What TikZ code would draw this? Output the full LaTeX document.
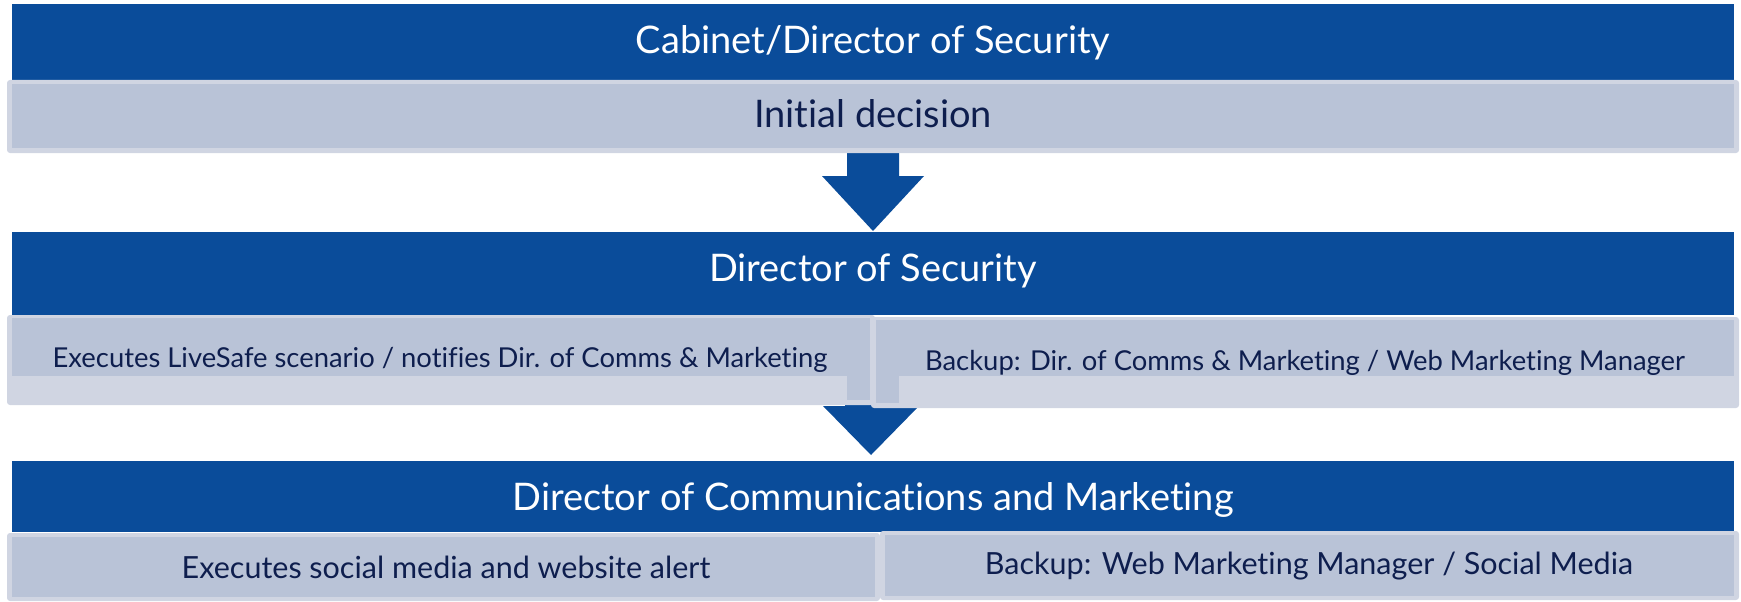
\documentclass[tikz,border=0pt]{standalone}
\usepackage{fontspec}
\setmainfont{Lato}[Ligatures=NoCommon]
\definecolor{barblue}{RGB}{10,76,154}
\definecolor{boxfill}{RGB}{185,195,215}
\definecolor{boxedge}{RGB}{208,213,226}
\definecolor{navy}{RGB}{14,30,78}
\begin{document}
\begin{tikzpicture}[x=1pt,y=-1pt,
  bigtext/.style={inner sep=0pt,font=\fontsize{38}{44}\selectfont},
  midtext/.style={inner sep=0pt,font=\fontsize{30.5}{36}\selectfont},
  smalltext/.style={inner sep=0pt,font=\fontsize{27.4}{32}\selectfont},
  bartext/.style={bigtext,text=white},
  boxtext/.style={text=navy},
  edgefill/.style={fill=boxedge,rounded corners=3pt},
  innerfill/.style={fill=boxfill},
  blockarrow/.style={fill=barblue}]
\useasboundingbox (0,0) rectangle (1741,602);
% arrows (behind)
\fill[blockarrow] (847,150) -- (899,150) -- (899,176) -- (924,176) -- (873,231) -- (822,176) -- (847,176) -- cycle;
\fill[blockarrow] (845,380) -- (897,380) -- (897,406) -- (919,406) -- (871,455) -- (823,406) -- (845,406) -- cycle;
% bars
\fill[barblue] (12,4) rectangle (1734,80);
\fill[barblue] (12,232) rectangle (1734,315);
\fill[barblue] (12,461) rectangle (1734,532);
% row 1 box
\fill[edgefill] (7,80) rectangle (1739,153);
\fill[innerfill] (12,84) rectangle (1734,148);
% row 2 boxes
\fill[edgefill] (7,315) rectangle (875,405);
\fill[innerfill] (12,318) rectangle (870,376);
\fill[innerfill] (847,376) rectangle (870,400);
\fill[edgefill] (871,317) rectangle (1739,408);
\fill[innerfill] (876,320) rectangle (1734,376);
\fill[innerfill] (876,376) rectangle (899,403);
% row 3 boxes
\fill[edgefill] (7,533) rectangle (880,601);
\fill[innerfill] (12,537) rectangle (875,597);
\fill[edgefill] (880,531) rectangle (1739,600);
\fill[innerfill] (885,535) rectangle (1734,596);
% texts
\node[bartext] (h1) at (873,43) {Cabinet/Director of Security};
\node[bigtext,boxtext] (t1) at (873,114) {Initial decision};
\node[bartext] (h2) at (873,271) {Director of Security};
\node[smalltext,boxtext] (t2a) at (440,360) {Executes LiveSafe scenario / notifies Dir. of Comms \& Marketing};
\node[smalltext,boxtext] (t2b) at (1305,363) {Backup: Dir. of Comms \& Marketing / Web Marketing Manager};
\node[bartext] (h3) at (873,500) {Director of Communications and Marketing};
\node[midtext,boxtext] (t3a) at (446,567) {Executes social media and website alert};
\node[midtext,boxtext] (t3b) at (1309,566) {Backup: Web Marketing Manager / Social Media};
\end{tikzpicture}
\end{document}
